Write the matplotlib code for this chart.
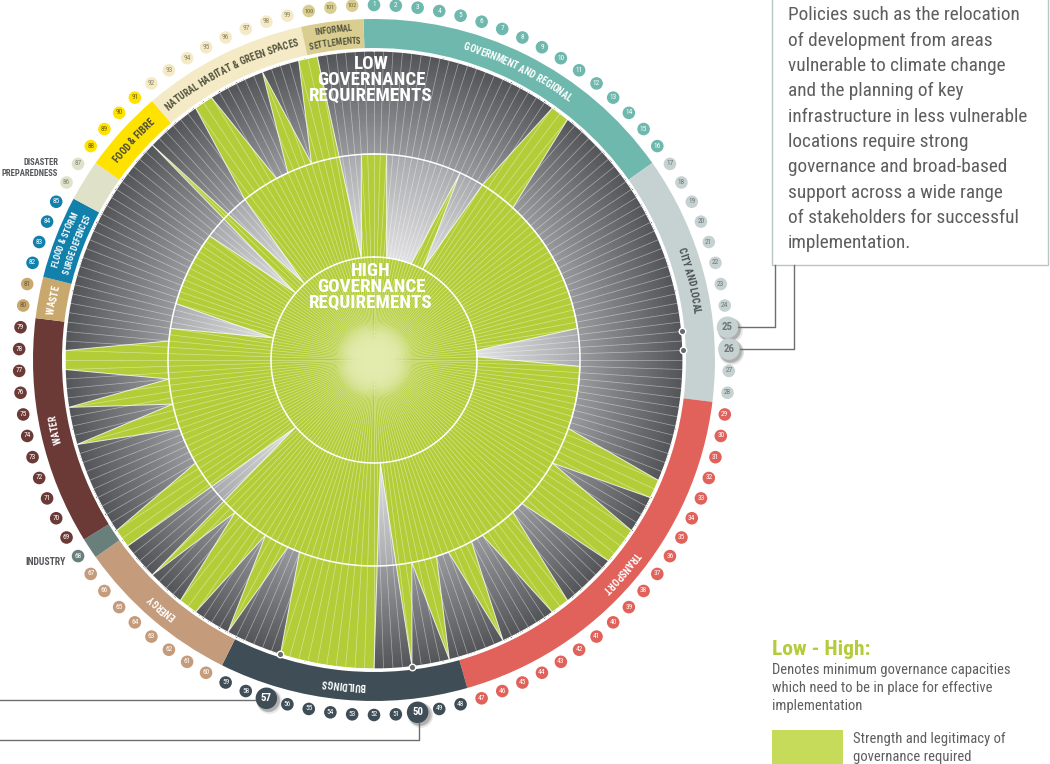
import numpy as np
import matplotlib
matplotlib.use("Agg")
import matplotlib.pyplot as plt
import matplotlib.ft2font as ft2font
from matplotlib import font_manager as fm
from matplotlib.colors import LinearSegmentedColormap, ListedColormap
from matplotlib.transforms import offset_copy
from matplotlib.patches import Rectangle

# reach of the green area for measures 1..102
# 1 = inner ring (high governance), 2 = middle ring, 3 = outer edge (low governance)
reach = [2, 2, 1, 1, 1, 1, 1, 2, 1, 2,
         3, 3, 2, 2, 2, 2, 2, 2, 2, 2,
         2, 2, 2, 2, 1, 1, 2, 2, 2, 2,
         2, 2, 3, 3, 2, 3, 3, 3, 2, 2,
         3, 3, 2, 2, 3, 2, 2, 3, 2, 3,
         1, 3, 3, 3, 3, 3, 3, 2, 2, 3,
         2, 3, 3, 2, 3, 1, 3, 3, 2, 2,
         2, 2, 3, 2, 3, 2, 3, 3, 2, 2,
         1, 2, 2, 2, 2, 2, 2, 2, 1, 3,
         1, 2, 3, 3, 2, 2, 3, 2, 3, 3,
         1, 2]

categories = ["GOVERNMENT AND REGIONAL", "CITY AND LOCAL", "TRANSPORT", "BUILDINGS",
              "ENERGY", "INDUSTRY", "WATER", "WASTE", "FLOOD & STORM\nSURGE DEFENCES",
              "DISASTER\nPREPAREDNESS", "FOOD & FIBRE", "NATURAL HABITAT & GREEN SPACES",
              "INFORMAL\nSETTLEMENTS"]
cat_sizes = [16, 12, 19, 12, 8, 1, 11, 2, 4, 2, 4, 8, 3]
cat_colors = ["#6fb8ae", "#c6d2d1", "#e0625a", "#3e4d56", "#c49b7b", "#687f7c", "#6b3a36",
              "#c9a86e", "#1180ab", "#dfe2c9", "#ffe200", "#f4eac6", "#d9cd90"]
label_colors = ["white", "#4a5052", "white", "white", "white", None, "white",
                "white", "white", None, "#4a4a3a", "#55553f", "#55553f"]
number_colors = ["white", "#6f7678", "white", "white", "white", "white", "white",
                 "#6b5b3c", "white", "#8a8c7c", "#6b6200", "#8a8468", "#6b6440"]
highlight = [25, 26, 50, 57]

note = ["Policies such as the relocation", "of development from areas",
        "vulnerable to climate change", "and the planning of key",
        "infrastructure in less vulnerable", "locations require strong",
        "governance and broad-based", "support across a wide range",
        "of stakeholders for successful", "implementation."]

GREEN = "#b3cd39"
GREY_TXT = "#5d5e60"

# ---------------------------------------------------------------- fonts
names = {f.name for f in fm.fontManager.ttflist}
NARROW = next((n for n in ["Liberation Sans Narrow", "Roboto Condensed",
                           "Open Sans Condensed", "DejaVu Sans"] if n in names), "DejaVu Sans")
NOHINT = ft2font.LoadFlags.NO_HINTING if hasattr(ft2font, "LoadFlags") else ft2font.LOAD_NO_HINTING


def advances(s, size, weight="normal"):
    fp = fm.FontProperties(family=NARROW, weight=weight, size=size)
    font = fm.get_font(fm.findfont(fp))
    font.set_size(size, 100)
    return [font.load_char(ord(c), flags=NOHINT).linearHoriAdvance / 65536 for c in s]


def fit_size(s, width, weight="normal"):
    return 10 * width / sum(advances(s, 10, weight))


# ---------------------------------------------------------------- layout
W, H = 1050, 764
CX, CY = 374, 360          # centre of the wheel in pixels (from top)
RPX = 309.0                # pixels per radius unit
RMAX = 1.22
S = RMAX * RPX

fig = plt.figure(figsize=(W / 100, H / 100), dpi=100)
ax = fig.add_axes([(CX - S) / W, (H - CY - S) / H, 2 * S / W, 2 * S / H], projection="polar")
ax.set_theta_zero_location("N")
ax.set_theta_direction(-1)
ax.set_ylim(0, RMAX)
ax.axis("off")

n = len(reach)
step = 2 * np.pi / n
theta = np.arange(n) * step
r_val = np.array(reach) / 3.0

# background gradient
grad = LinearSegmentedColormap.from_list("g", [(0, "#f4f4f4"), (0.33, "#e1e1e3"), (0.66, "#aaabae"),
                                              (0.67, "#98999c"), (1.0, "#545558")])
tg = np.linspace(0, 2 * np.pi, 721)
rg = np.linspace(0, 1, 201)
rc = (rg[:-1] + rg[1:]) / 2
ax.pcolormesh(tg, rg, np.tile(rc[:, None], (1, 720)), cmap=grad, vmin=0, vmax=1,
              shading="flat", zorder=1, rasterized=True)

# green area
ax.fill(theta, r_val, color=GREEN, lw=0, zorder=2)
ax.fill(theta, r_val, facecolor="none", edgecolor="white", lw=0.7, alpha=0.8, zorder=3.5)

# radial lines and rings
ax.vlines(np.arange(2 * n) * step / 2, 0, 1, color="white", lw=0.5, alpha=0.45, zorder=3)
ring = np.linspace(0, 2 * np.pi, 600)
for rr, lw in [(1 / 3, 1.1), (2 / 3, 1.1), (1.0, 0.8)]:
    ax.plot(ring, np.full_like(ring, rr), color="white", lw=lw, zorder=4)

# centre glow
glow = ListedColormap([(0.89, 0.92, 0.68, a) for a in np.linspace(1, 0, 64)])
rg2 = np.linspace(0, 0.13, 40)
rc2 = (rg2[:-1] + rg2[1:]) / 2
ax.pcolormesh(tg, rg2, np.tile(rc2[:, None], (1, 720)), cmap=glow, vmin=0.04, vmax=0.13,
              shading="flat", zorder=5, rasterized=True)

# category band, numbers and labels
band_lo, band_hi = 312 / RPX, 341 / RPX
r_num = 355 / RPX
first = np.concatenate([[0], np.cumsum(cat_sizes)[:-1]])
item_col = np.repeat(cat_colors, cat_sizes)
item_txt = np.repeat(number_colors, cat_sizes)
for name, f0, k, col, lc in zip(categories, first, cat_sizes, cat_colors, label_colors):
    mid = (f0 + (k - 1) / 2) * step
    ax.bar(mid, band_hi - band_lo, width=k * step, bottom=band_lo, color=col, lw=0, zorder=2)
    if lc is None:
        continue
    lines = name.split("\n")
    size = 7 if len(lines) == 1 else 6.2
    rmids = [326.5] if len(lines) == 1 else [333.0, 320.0]
    for txt, rm in zip(lines, rmids):
        adv = advances(txt, size, "bold")
        cap = 0.72 * size * 100 / 72
        rb = (rm - cap / 2) / RPX
        pos = mid - sum(adv) / 2 / rm
        for c, a in zip(txt, adv):
            th = pos + a / 2 / rm
            ax.text(th, rb, c, rotation=-np.degrees(th), rotation_mode="anchor", ha="center",
                    va="baseline", fontsize=size, fontweight="bold", family=NARROW, color=lc,
                    zorder=8)
            pos += a / rm

small = [i for i in range(n) if i + 1 not in highlight]
big = [i for i in range(n) if i + 1 in highlight]
ax.scatter(theta[small], np.full(len(small), r_num), s=82, c=item_col[small], lw=0, zorder=6,
           clip_on=False)
for i in small:
    ax.text(theta[i], r_num, str(i + 1), ha="center", va="center", color=item_txt[i],
            fontsize=5.3 if i < 99 else 4.5, family=NARROW, zorder=7)
for dx, sz, a in [(2.5, 330, 0.08), (2.0, 290, 0.12), (1.5, 260, 0.15)]:
    sh = offset_copy(ax.transData, fig=fig, x=dx, y=-dx, units="dots")
    ax.scatter(theta[big], np.full(len(big), r_num), s=sz, c="black", alpha=a, lw=0,
               transform=sh, zorder=6, clip_on=False)
ax.scatter(theta[big], np.full(len(big), r_num), s=240, c=item_col[big], lw=0, zorder=6.5,
           clip_on=False)
for i in big:
    ax.text(theta[i], r_num, str(i + 1), ha="center", va="center", color=item_txt[i],
            fontsize=7.8, fontweight="bold", family=NARROW, zorder=7)
ax.scatter(theta[big], np.ones(len(big)), s=22, facecolor="#6a6b6d", edgecolor="white",
           lw=1.0, zorder=9)

# ---------------------------------------------------------------- overlay
ov = fig.add_axes([0, 0, 1, 1])
ov.set_xlim(0, W)
ov.set_ylim(H, 0)
ov.axis("off")


def num_xy(k, r=r_num):
    t = (k - 1) * step
    return CX + r * RPX * np.sin(t), CY - r * RPX * np.cos(t)


LINE = dict(color="#6d6e71", lw=1.0)
x25, y25 = num_xy(25)
x26, y26 = num_xy(26)
ov.plot([x25 + 11, 775, 775], [y25, y25, 265], **LINE)
ov.plot([x26 + 11, 794, 794], [y26, y26, 265], **LINE)
x57, y57 = num_xy(57)
ov.plot([0, x57 - 11], [y57 + 2, y57 + 2], **LINE)
x50, y50 = num_xy(50)
ov.plot([x50 + 1, x50 + 1, 0], [y50 + 11, 740, 740], **LINE)

ov.add_patch(Rectangle((772, -5), 276, 270, facecolor="white", edgecolor="#b8c6c6", lw=1.0))
fs_note = fit_size(max(note, key=lambda s: sum(advances(s, 10))), 239)
for j, line in enumerate(note):
    ov.text(788, 20.5 + 25.3 * j, line, fontsize=fs_note, family=NARROW, color=GREY_TXT,
            va="baseline", ha="left")

# centre labels
for block, y0 in [(["LOW", "GOVERNANCE", "REQUIREMENTS"], 64),
                  (["HIGH", "GOVERNANCE", "REQUIREMENTS"], 271)]:
    for j, txt in enumerate(block):
        ov.text(371, y0 + 16 * j, txt, ha="center", va="center", color="white",
                fontsize=fit_size("GOVERNANCE", 108, "bold"), fontweight="bold", family=NARROW)

# labels for the two narrow sectors, outside the ring
ov.text(66, 562, "INDUSTRY", ha="right", va="center", fontsize=fit_size("INDUSTRY", 41, "bold"),
        fontweight="bold", family=NARROW, color="#55575a")
ov.text(58, 168, "DISASTER\nPREPAREDNESS", ha="right", va="center",
        fontsize=fit_size("PREPAREDNESS", 57, "bold"), fontweight="bold", family=NARROW,
        color="#55575a", linespacing=1.25)

# legend
ov.text(772, 655, "Low - High:", fontsize=fit_size("Low - High:", 98, "bold"), fontweight="bold",
        family=NARROW, color="#b4cc3a", va="baseline")
desc = ["Denotes minimum governance capacities", "which need to be in place for effective",
        "implementation"]
fs_desc = fit_size(desc[0], 237)
for j, line in enumerate(desc):
    ov.text(772, 674 + 18 * j, line, fontsize=fs_desc, family=NARROW, color=GREY_TXT,
            va="baseline")
ov.add_patch(Rectangle((772, 730), 71, 40, facecolor="#c5db59", lw=0))
for j, line in enumerate(["Strength and legitimacy of", "governance required"]):
    ov.text(853, 743 + 18 * j, line, fontsize=fs_desc, family=NARROW, color=GREY_TXT,
            va="baseline")

fig.savefig("out.png", dpi=100)
